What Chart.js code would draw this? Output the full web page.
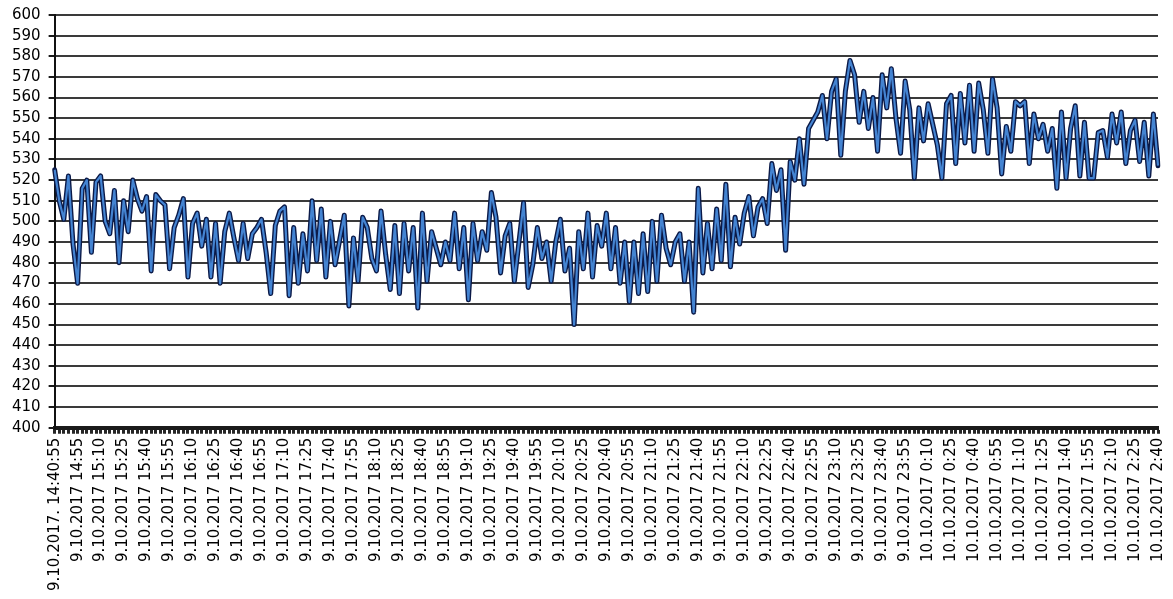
<!DOCTYPE html>
<html>
<head>
<meta charset="utf-8">
<script src="https://cdn.jsdelivr.net/npm/chart.js@4/dist/chart.umd.min.js"></script>
<style>
  html, body { margin: 0; padding: 0; background: #ffffff; }
  #wrap { width: 1173px; height: 599px; }
</style>
</head>
<body>
<div id="wrap"><canvas id="chart" width="1173" height="599"></canvas></div>
<script>
// Axis labels shown every 15 minutes
const tickLabels = [
  '9.10.2017. 14:40:55', '9.10.2017 14:55', '9.10.2017 15:10', '9.10.2017 15:25',
  '9.10.2017 15:40', '9.10.2017 15:55', '9.10.2017 16:10', '9.10.2017 16:25',
  '9.10.2017 16:40', '9.10.2017 16:55', '9.10.2017 17:10', '9.10.2017 17:25',
  '9.10.2017 17:40', '9.10.2017 17:55', '9.10.2017 18:10', '9.10.2017 18:25',
  '9.10.2017 18:40', '9.10.2017 18:55', '9.10.2017 19:10', '9.10.2017 19:25',
  '9.10.2017 19:40', '9.10.2017 19:55', '9.10.2017 20:10', '9.10.2017 20:25',
  '9.10.2017 20:40', '9.10.2017 20:55', '9.10.2017 21:10', '9.10.2017 21:25',
  '9.10.2017 21:40', '9.10.2017 21:55', '9.10.2017 22:10', '9.10.2017 22:25',
  '9.10.2017 22:40', '9.10.2017 22:55', '9.10.2017 23:10', '9.10.2017 23:25',
  '9.10.2017 23:40', '9.10.2017 23:55', '10.10.2017 0:10', '10.10.2017 0:25',
  '10.10.2017 0:40', '10.10.2017 0:55', '10.10.2017 1:10', '10.10.2017 1:25',
  '10.10.2017 1:40', '10.10.2017 1:55', '10.10.2017 2:10', '10.10.2017 2:25',
  '10.10.2017 2:40'
];

// Samples between two labels (3-minute readings)
const samplesPerLabel = 5;

// Measured readings, one every 3 minutes
const readings = [
  525, 510, 501, 522, 489, 470, 516, 520, 485, 519,
  522, 500, 494, 515, 480, 510, 495, 520, 511, 505,
  512, 476, 513, 510, 508, 477, 497, 503, 511, 473,
  499, 504, 488, 501, 473, 499, 470, 495, 504, 492,
  481, 499, 482, 494, 497, 501, 485, 465, 498, 505,
  507, 464, 497, 470, 494, 476, 510, 481, 506, 473,
  500, 479, 491, 503, 459, 492, 471, 502, 497, 482,
  476, 505, 484, 467, 498, 465, 499, 476, 497, 458,
  504, 471, 495, 487, 479, 490, 481, 504, 477, 497,
  462, 499, 481, 495, 486, 514, 502, 475, 493, 499,
  471, 490, 509, 468, 479, 497, 482, 490, 471, 490,
  501, 476, 487, 450, 495, 477, 504, 473, 498, 488,
  504, 477, 497, 470, 490, 461, 490, 465, 494, 466,
  500, 471, 503, 487, 479, 490, 494, 471, 490, 456,
  516, 475, 499, 477, 506, 481, 518, 478, 502, 489,
  504, 512, 493, 507, 511, 499, 528, 515, 525, 486,
  529, 520, 540, 518, 545, 549, 553, 561, 540, 563,
  569, 532, 563, 578, 571, 548, 563, 545, 560, 534,
  571, 555, 574, 550, 533, 568, 554, 521, 555, 539,
  557, 547, 537, 521, 557, 561, 528, 562, 538, 566,
  534, 567, 554, 533, 569, 555, 523, 546, 534, 558,
  556, 558, 528, 552, 540, 547, 534, 545, 516, 553,
  521, 545, 556, 522, 548, 521, 521, 543, 544, 531,
  552, 538, 553, 528, 544, 549, 529, 548, 522, 552,
  527
];

// Y axis range and step
const yMin = 400;
const yMax = 600;
const yStep = 10;

// One category per reading; only every fifth one carries a printed label
const categories = readings.map((_, i) =>
  i % samplesPerLabel === 0 ? tickLabels[i / samplesPerLabel] : '');

const FONT = "'DejaVu Sans', Verdana, sans-serif";

new Chart(document.getElementById('chart'), {
  type: 'line',
  data: {
    labels: categories,
    datasets: [
      {
        // dark outer stroke
        data: readings,
        borderColor: '#0b1a48',
        borderWidth: 5,
        borderJoinStyle: 'round',
        borderCapStyle: 'round',
        pointRadius: 0,
        tension: 0,
        fill: false,
        order: 2
      },
      {
        // lighter inner highlight
        data: readings,
        borderColor: 'rgba(72,138,218,0.95)',
        borderWidth: 2.2,
        borderJoinStyle: 'round',
        pointRadius: 0,
        tension: 0,
        fill: false,
        order: 1
      }
    ]
  },
  options: {
    responsive: false,
    animation: false,
    devicePixelRatio: 1,
    layout: { padding: { left: 4, right: 0, top: 0, bottom: 4 } },
    plugins: {
      legend: { display: false },
      tooltip: { enabled: false }
    },
    scales: {
      x: {
        type: 'category',
        offset: false,
        afterFit: function (scale) {
          // room on the right for the last rotated label
          scale.paddingRight = 15;
        },
        grid: {
          display: true,
          drawOnChartArea: false,
          drawTicks: true,
          tickLength: 6,
          tickWidth: 3,
          tickColor: '#262626'
        },
        border: { display: true, color: '#1a1a1a', width: 4 },
        ticks: {
          autoSkip: false,
          minRotation: 90,
          maxRotation: 90,
          padding: 4,
          color: '#000000',
          font: { family: FONT, size: 15 },
          callback: function (value, index) {
            return categories[index];
          }
        }
      },
      y: {
        min: yMin,
        max: yMax,
        afterFit: function (scale) {
          scale.paddingTop = 15;
        },
        grid: {
          color: '#3a3a3a',
          lineWidth: 2,
          drawTicks: true,
          tickLength: 6,
          tickColor: '#1a1a1a'
        },
        border: { display: true, color: '#111111', width: 2 },
        ticks: {
          stepSize: yStep,
          autoSkip: false,
          padding: 8,
          color: '#000000',
          font: { family: FONT, size: 15 }
        }
      }
    }
  }
});
</script>
</body>
</html>
